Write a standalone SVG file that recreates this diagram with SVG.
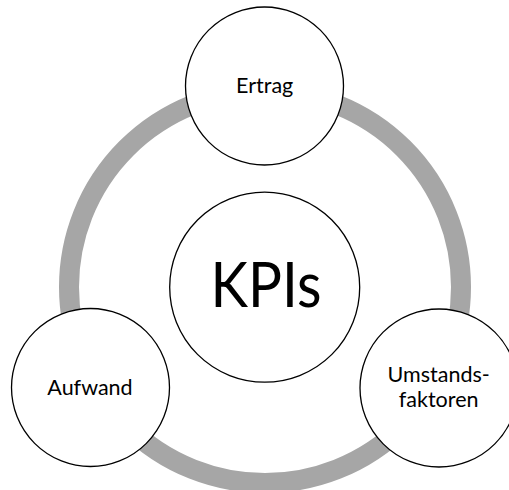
<svg xmlns="http://www.w3.org/2000/svg" width="509" height="490" viewBox="0 0 509 490">
  <style>
    .ring { fill: none; stroke: #a6a6a6; stroke-width: 20; }
    .node circle { fill: #ffffff; stroke: #000000; stroke-width: 1.3; }
    .node text { font-family: Lato, "Liberation Sans", sans-serif; fill: #000000; text-anchor: middle; }
    .label { font-size: 21.5px; }
    .title { font-size: 62px; }
  </style>
  <rect width="509" height="490" fill="#ffffff"/>
  <!-- cycle ring linking the three outer nodes -->
  <g id="connectors">
    <circle class="ring" cx="265" cy="287" r="196"/>
  </g>
  <g id="kpis" class="node">
    <circle cx="264.7" cy="287.2" r="95"/>
    <text class="title" x="266" y="307.3" textLength="111" lengthAdjust="spacingAndGlyphs">KPIs</text>
  </g>
  <g id="ertrag" class="node">
    <circle cx="264.5" cy="86" r="79"/>
    <text class="label" x="264.7" y="93.3">Ertrag</text>
  </g>
  <g id="aufwand" class="node">
    <circle cx="90.5" cy="387.5" r="79"/>
    <text class="label" x="90" y="395">Aufwand</text>
  </g>
  <g id="umstandsfaktoren" class="node">
    <circle cx="439" cy="388" r="79"/>
    <text class="label" x="438.7" y="381.7">Umstands-</text>
    <text class="label" x="438.7" y="407.3">faktoren</text>
  </g>
</svg>
